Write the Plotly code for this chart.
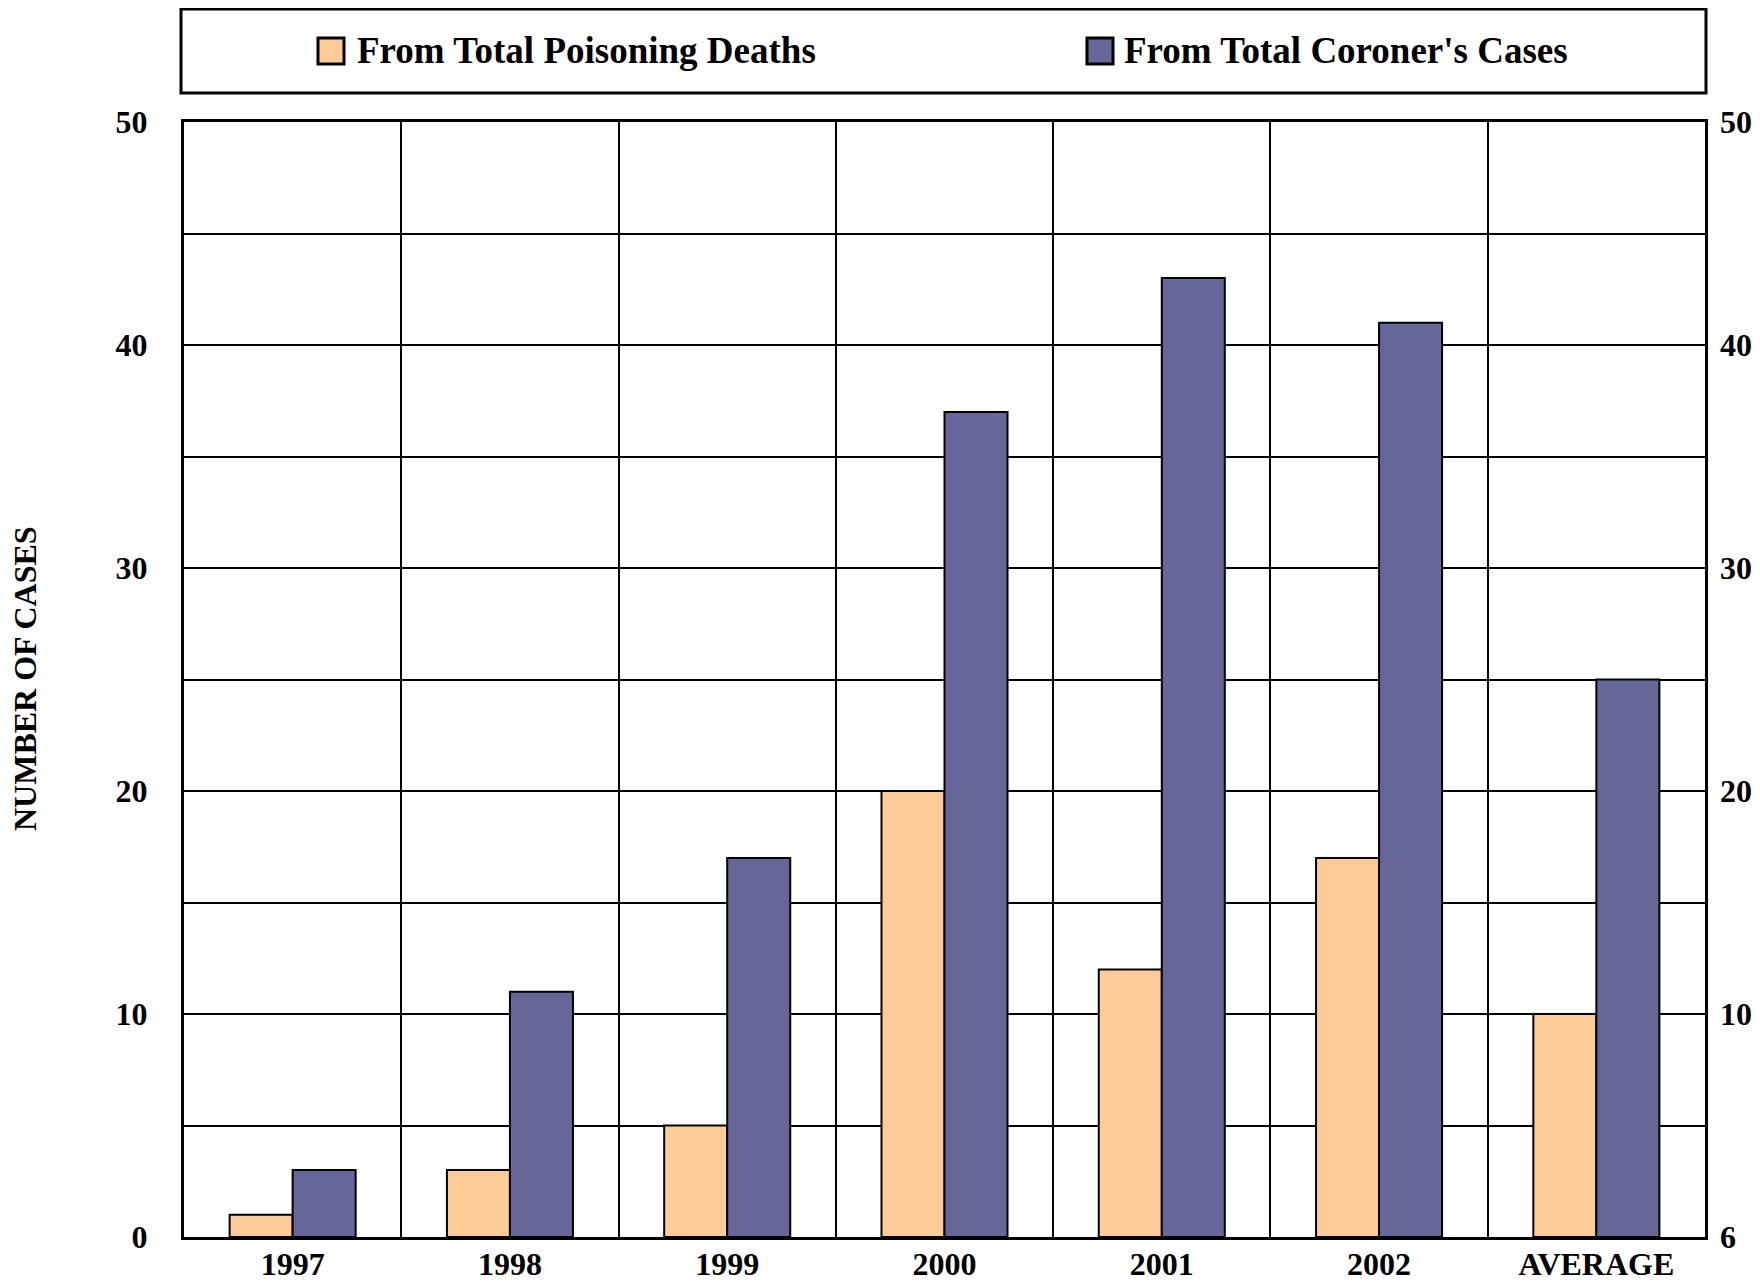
import plotly.graph_objects as go

categories = ["1997", "1998", "1999", "2000", "2001", "2002", "AVERAGE"]
poisoning_deaths = [1, 3, 5, 20, 12, 17, 10]
coroner_cases = [3, 11, 17, 37, 43, 41, 25]
series_names = ["From Total Poisoning Deaths", "From Total Coroner's Cases"]
series_colors = ["#FFCC99", "#666699"]
left_ticks = [0, 10, 20, 30, 40, 50]
right_tick_text = ["6", "10", "20", "30", "40", "50"]

# figure sits at (8,8) in the page because of the default body margin
W, H = 1752, 1275
ML, MR, MT, MB = 176, 55, 114, 46
FONT = "Liberation Serif"
pw = W - ML - MR
ph = H - MT - MB


def px(x):
    return (x - ML) / pw


def py(y):
    return (H - MB - y) / ph


xpos = list(range(len(categories)))

fig = go.Figure()
for vals, name, col in zip([poisoning_deaths, coroner_cases], series_names, series_colors):
    fig.add_trace(go.Bar(x=xpos, y=vals, name=name, showlegend=False,
                         marker=dict(color=col, line=dict(color="black", width=2))))
fig.add_trace(go.Scatter(x=[xpos[0]], y=[0], yaxis="y2", mode="markers",
                         marker=dict(opacity=0), showlegend=False, hoverinfo="skip"))

TICK = 32

fig.update_layout(
    width=W, height=H,
    margin=dict(l=ML, r=MR, t=MT, b=MB, autoexpand=False),
    paper_bgcolor="white", plot_bgcolor="white",
    barmode="group", bargap=0.42, bargroupgap=0,
    showlegend=False,
    font=dict(family=FONT, size=TICK, color="black", weight="bold"),
    xaxis=dict(range=[-0.5, len(categories) - 0.5], tickvals=xpos, ticktext=categories,
               showgrid=False, zeroline=False, showline=True, linecolor="black",
               linewidth=3, mirror=True, ticks="", ticklabelstandoff=-3, automargin=False,
               tickfont=dict(family=FONT, size=TICK, weight="bold"),
               minor=dict(tickmode="array", tickvals=[i + 0.5 for i in xpos[:-1]],
                          showgrid=True, gridcolor="black", gridwidth=2, ticks="")),
    yaxis=dict(range=[0, 50], tickvals=left_ticks, ticktext=[str(v) for v in left_ticks],
               showgrid=True, gridcolor="black", gridwidth=2, zeroline=False,
               showline=True, linecolor="black", linewidth=3, mirror=True,
               ticks="", ticklabelstandoff=27, automargin=False,
               tickfont=dict(family=FONT, size=TICK, weight="bold"),
               minor=dict(dtick=5, tick0=0, showgrid=True, gridcolor="black",
                          gridwidth=2, ticks="")),
    yaxis2=dict(range=[0, 50], overlaying="y", side="right", tickvals=left_ticks,
                ticktext=right_tick_text, showgrid=False, zeroline=False,
                showline=False, ticks="", ticklabelstandoff=14, automargin=False,
                tickfont=dict(family=FONT, size=TICK, weight="bold")),
)

# legend box
fig.add_shape(type="rect", xref="paper", yref="paper",
              x0=px(173), x1=px(1698), y0=py(85), y1=py(1),
              line=dict(color="black", width=3), fillcolor="white", layer="below")

# legend entries
swatch_x = [310, 1079]
text_x = [347, 1114]
for sx, tx, name, col in zip(swatch_x, text_x, series_names, series_colors):
    fig.add_shape(type="rect", xref="paper", yref="paper",
                  x0=px(sx), x1=px(sx + 26), y0=py(56), y1=py(30),
                  line=dict(color="black", width=3), fillcolor=col)
    fig.add_annotation(text=name, xref="paper", yref="paper", x=px(tx), y=py(43),
                       xanchor="left", yanchor="middle", showarrow=False,
                       font=dict(family=FONT, size=37, color="black", weight="bold"))

fig.add_annotation(text="NUMBER OF CASES", xref="paper", yref="paper",
                   x=px(17), y=py(671), textangle=-90,
                   showarrow=False, xanchor="center", yanchor="middle",
                   font=dict(family=FONT, size=32, color="black", weight="bold"))

fig.write_html("out.html")
